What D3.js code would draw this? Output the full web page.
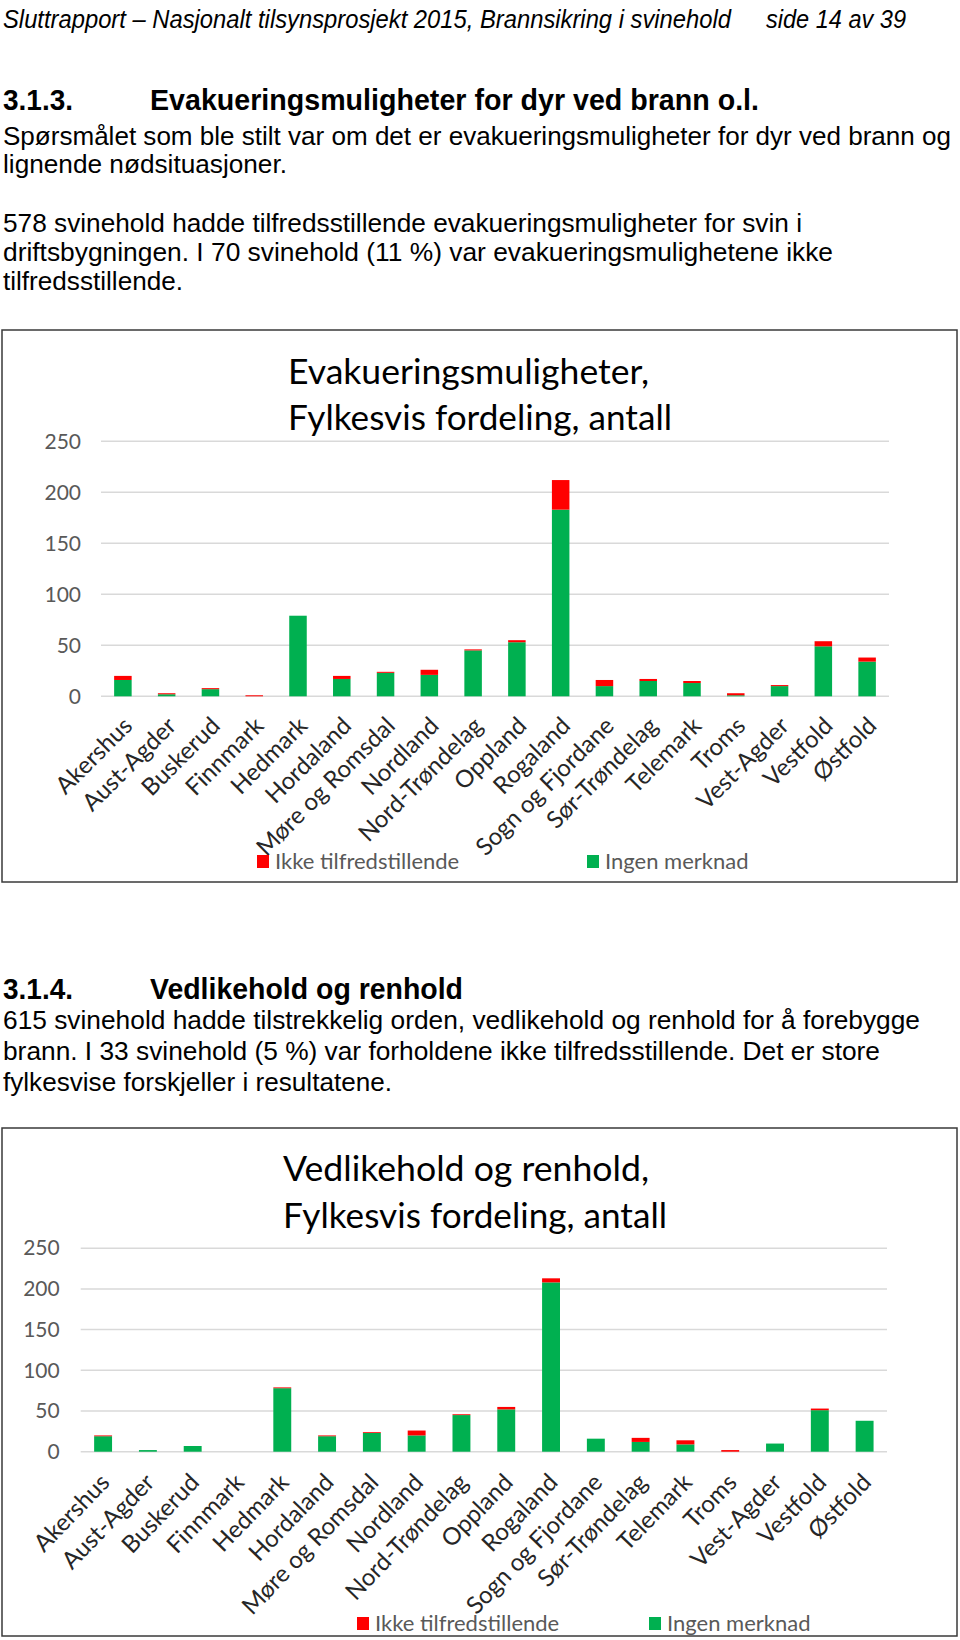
<!DOCTYPE html>
<html>
<head>
<meta charset="utf-8">
<script src="https://cdn.jsdelivr.net/npm/d3@7"></script>
<style>
  html, body { margin: 0; padding: 0; background: #fff; }
  svg { display: block; }
</style>
</head>
<body>
<svg id="page" width="960" height="1640"></svg>
<script>
// ---------- DATA ----------
const categories = ["Akershus", "Aust-Agder", "Buskerud", "Finnmark", "Hedmark", "Hordaland",
  "Møre og Romsdal", "Nordland", "Nord-Trøndelag", "Oppland", "Rogaland", "Sogn og Fjordane",
  "Sør-Trøndelag", "Telemark", "Troms", "Vest-Agder", "Vestfold", "Østfold"];

// Chart 1: Evakueringsmuligheter
const evakIngenMerknad = [16, 2, 7, 0, 79, 17, 23, 21, 45, 53, 183, 10, 15, 13, 1, 10, 49, 34];
const evakIkkeTilfreds = [4, 1, 1, 1, 0, 3, 1, 5, 1, 2, 29, 6, 2, 2, 2, 1, 5, 4];

// Chart 2: Vedlikehold og renhold
const vedlIngenMerknad = [19, 2, 7, 0, 78, 19, 23, 20, 45, 52, 208, 16, 12, 9, 0, 10, 51, 38];
const vedlIkkeTilfreds = [1, 0, 0, 0, 1, 1, 1, 6, 1, 3, 5, 0, 5, 5, 2, 0, 2, 0];

const yTicks = [0, 50, 100, 150, 200, 250];
const seriesNames = ["Ikke tilfredstillende", "Ingen merknad"];
const seriesColors = ["#ff0000", "#00b050"];

// ---------- PAGE TEXT ----------
const svg = d3.select("#page");
svg.append("rect").attr("width", 960).attr("height", 1640).attr("fill", "#fff");

const bodyFont = "'Liberation Sans', Arial, sans-serif";
const textG = svg.append("g");

const lines = [
  {t: "Sluttrapport – Nasjonalt tilsynsprosjekt 2015, Brannsikring i svinehold", x: 3, y: 28, w: 728, size: 25, style: "italic"},
  {t: "side 14 av 39", x: 766, y: 28, w: 140, size: 25, style: "italic"},
  {t: "3.1.3.", x: 3, y: 110, w: 70, size: 29, weight: "bold"},
  {t: "Evakueringsmuligheter for dyr ved brann o.l.", x: 150, y: 110, w: 609, size: 29, weight: "bold"},
  {t: "Spørsmålet som ble stilt var om det er evakueringsmuligheter for dyr ved brann og", x: 3, y: 145, w: 948, size: 26},
  {t: "lignende nødsituasjoner.", x: 3, y: 173, w: 284, size: 26.6},
  {t: "578 svinehold hadde tilfredsstillende evakueringsmuligheter for svin i", x: 3, y: 232, w: 799, size: 26.6},
  {t: "driftsbygningen. I 70 svinehold (11 %) var evakueringsmulighetene ikke", x: 3, y: 261, w: 830, size: 26.6},
  {t: "tilfredsstillende.", x: 3, y: 290, w: 180, size: 26.6},
  {t: "3.1.4.", x: 3, y: 999, w: 70, size: 29, weight: "bold"},
  {t: "Vedlikehold og renhold", x: 150, y: 999, w: 313, size: 29, weight: "bold"},
  {t: "615 svinehold hadde tilstrekkelig orden, vedlikehold og renhold for å forebygge", x: 3, y: 1029, w: 917, size: 26.6},
  {t: "brann. I 33 svinehold (5 %) var forholdene ikke tilfredsstillende. Det er store", x: 3, y: 1060, w: 877, size: 26.6},
  {t: "fylkesvise forskjeller i resultatene.", x: 3, y: 1091, w: 389, size: 26.6}
];

textG.selectAll("text.body").data(lines).join("text")
  .attr("class", "body")
  .attr("x", d => d.x).attr("y", d => d.y)
  .attr("font-family", bodyFont)
  .attr("font-size", d => d.size)
  .attr("font-style", d => d.style || "normal")
  .attr("font-weight", d => d.weight || "normal")
  .attr("textLength", d => d.w).attr("lengthAdjust", "spacingAndGlyphs")
  .attr("fill", "#000")
  .text(d => d.t);

// ---------- CHART ----------
function drawChart(cfg) {
  const g = svg.append("g");
  g.append("rect")
    .attr("x", cfg.box[0]).attr("y", cfg.box[1])
    .attr("width", cfg.box[2] - cfg.box[0]).attr("height", cfg.box[3] - cfg.box[1])
    .attr("fill", "#fff").attr("stroke", "#3a3a3a").attr("stroke-width", 1.5);

  const x = d3.scaleBand().domain(categories)
    .range([cfg.plotX0, cfg.plotX1]).paddingInner(0.6).paddingOuter(0.3);
  const y = d3.scaleLinear().domain([0, 250]).range([cfg.y0, cfg.y250]);

  // gridlines
  g.append("g").selectAll("line").data(yTicks).join("line")
    .attr("x1", cfg.plotX0).attr("x2", cfg.plotX1)
    .attr("y1", d => y(d)).attr("y2", d => y(d))
    .attr("stroke", "#d9d9d9").attr("stroke-width", 1.5);

  // y axis labels via d3 axis
  const yAxis = d3.axisLeft(y).tickValues(yTicks).tickSize(0).tickPadding(cfg.tickPad);
  const ya = g.append("g").attr("transform", `translate(${cfg.plotX0},0)`).call(yAxis);
  ya.select(".domain").remove();
  ya.selectAll("text").attr("font-family", "Lato, 'Open Sans', sans-serif")
    .attr("font-size", 21).attr("fill", "#595959");

  // stacked bars
  const rows = categories.map((c, i) => ({cat: c, ingen: cfg.ingen[i], ikke: cfg.ikke[i]}));
  const stack = d3.stack().keys(["ingen", "ikke"])(rows);
  const colorByKey = {ingen: seriesColors[1], ikke: seriesColors[0]};
  g.append("g").selectAll("g").data(stack).join("g")
    .attr("fill", d => colorByKey[d.key])
    .selectAll("rect").data(d => d).join("rect")
    .attr("x", d => x(d.data.cat))
    .attr("width", x.bandwidth())
    .attr("y", d => y(d[1]))
    .attr("height", d => Math.max(0, y(d[0]) - y(d[1])));

  // category labels
  g.append("g").selectAll("text").data(categories).join("text")
    .attr("transform", d => `translate(${x(d) + x.bandwidth() / 2 + cfg.lblDx},${cfg.y0 + cfg.lblDy}) rotate(${cfg.lblRot})`)
    .attr("text-anchor", "end")
    .attr("font-family", "Lato, 'Open Sans', sans-serif")
    .attr("font-size", 24)
    .attr("fill", "#262626")
    .text(d => d);

  // title
  g.append("g").selectAll("text").data(cfg.title).join("text")
    .attr("x", cfg.titleX).attr("y", (d, i) => cfg.titleY[i])
    .attr("font-family", "Lato, 'Open Sans', sans-serif")
    .attr("font-size", 35).attr("fill", "#000")
    .attr("textLength", (d, i) => cfg.titleW[i]).attr("lengthAdjust", "spacingAndGlyphs")
    .text(d => d);

  // legend
  const lg = g.append("g").selectAll("g").data(seriesNames).join("g")
    .attr("transform", (d, i) => `translate(${cfg.legendX[i]},${cfg.legendY})`);
  lg.append("rect").attr("x", 0).attr("y", -6).attr("width", 12).attr("height", 13)
    .attr("fill", (d, i) => seriesColors[i]);
  lg.append("text").attr("x", 18).attr("y", 8)
    .attr("font-family", "Lato, 'Open Sans', sans-serif")
    .attr("font-size", 22).attr("fill", "#595959")
    .text(d => d);
}

drawChart({
  box: [2, 330, 957, 882],
  plotX0: 101, plotX1: 889, y0: 696.3, y250: 441.3, tickPad: 20,
  ingen: evakIngenMerknad, ikke: evakIkkeTilfreds,
  lblDx: 11, lblDy: 31, lblRot: -45,
  title: ["Evakueringsmuligheter,", "Fylkesvis fordeling, antall"],
  titleX: 288, titleY: [384, 430], titleW: [361, 384],
  legendX: [257, 587], legendY: 861
});

drawChart({
  box: [2, 1128, 957, 1636],
  plotX0: 80.7, plotX1: 887, y0: 1451.7, y250: 1248.2, tickPad: 21,
  ingen: vedlIngenMerknad, ikke: vedlIkkeTilfreds,
  lblDx: 8, lblDy: 32, lblRot: -46,
  title: ["Vedlikehold og renhold,", "Fylkesvis fordeling, antall"],
  titleX: 283, titleY: [1181, 1228], titleW: [366, 384],
  legendX: [357, 649], legendY: 1623
});
</script>
</body>
</html>
